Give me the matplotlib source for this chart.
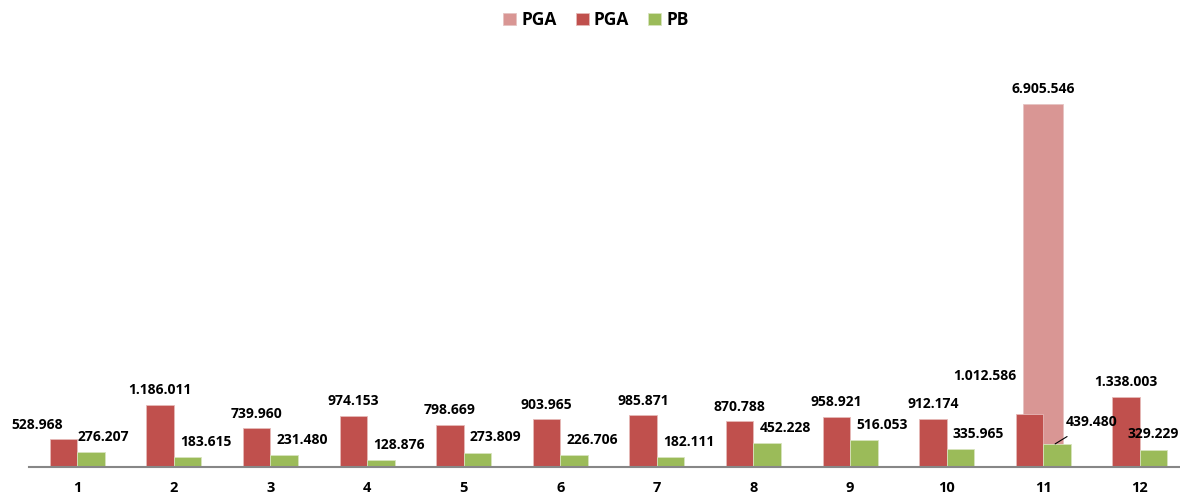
import matplotlib
matplotlib.use("Agg")
import matplotlib.pyplot as plt
import numpy as np

# 数据
categories = ['1', '2', '3', '4', '5', '6', '7', '8', '9', '10', '11', '12']
pga_values = [528968, 1186011, 739960, 974153, 798669, 903965, 985871, 870788, 958921, 912174, 1012586, 1338003]
pb_values = [276207, 183615, 231480, 128876, 273809, 226706, 182111, 452228, 516053, 335965, 439480, 329229]
pga_extra_index = 10
pga_extra_value = 6905546

color_pink = '#D99694'
color_red = '#C0504D'
color_green = '#9BBB59'


def fmt(v):
    return f"{v:,}".replace(',', '.')


plt.rcParams['font.family'] = ['Open Sans', 'DejaVu Sans']
plt.rcParams['font.weight'] = 'bold'

fig = plt.figure(figsize=(11.8, 4.95), dpi=100)
ax = fig.add_axes([29 / 1180, 28 / 495, 1151 / 1180, 427 / 495])

x = np.arange(len(categories))
bar_w = 0.285

# 背景粉色柱（只有第11组）
ax.bar([x[pga_extra_index]], [pga_extra_value], width=0.41, color=color_pink,
       edgecolor='#E6C4C3', linewidth=0.6, zorder=1, label='PGA')
ax.bar(x - bar_w / 2, pga_values, width=bar_w, color=color_red,
       edgecolor='#E6B9B8', linewidth=0.6, zorder=2, label='PGA')
ax.bar(x + bar_w / 2, pb_values, width=bar_w, color=color_green,
       edgecolor='#D7E4BD', linewidth=0.6, zorder=2, label='PB')

# 数据标签
label_kw = dict(ha='center', va='center', fontsize=10, fontweight='bold',
                textcoords='offset points', color='black', zorder=5)
for i, v in enumerate(pga_values):
    dx, dy = 0, 10.5
    if i == 0:
        dx = -19
    if i == pga_extra_index:
        dx, dy = -32, 27
    ax.annotate(fmt(v), (x[i] - bar_w / 2, v), xytext=(dx, dy), **label_kw)

for i, v in enumerate(pb_values):
    dx, dy = 13, 11
    if i == 0:
        dx = 9
    if i == len(pb_values) - 1:
        dx = 0
    if i == pga_extra_index:
        ax.annotate(fmt(v), (x[i] + bar_w / 2 - 0.02, v), xytext=(26, 16),
                    arrowprops=dict(arrowstyle='-', color='black', lw=0.8,
                                    shrinkA=7, shrinkB=0), **label_kw)
        continue
    ax.annotate(fmt(v), (x[i] + bar_w / 2, v), xytext=(dx, dy), **label_kw)

ax.annotate(fmt(pga_extra_value), (x[pga_extra_index], pga_extra_value),
            xytext=(0, 11), **label_kw)

# 坐标轴
ax.set_xlim(-0.5, -0.5 + 1151 / 96.6)
ax.set_ylim(0, 427 / 52.57 * 1e6)
ax.set_xticks(x)
ax.set_xticklabels(categories, fontsize=10.5, fontweight='bold')
ax.tick_params(axis='x', length=0, pad=10)
ax.set_yticks([])
for side in ['top', 'left', 'right']:
    ax.spines[side].set_visible(False)
ax.spines['bottom'].set_color('#878787')
ax.spines['bottom'].set_linewidth(1.5)

# 图例
leg = fig.legend(loc='center', bbox_to_anchor=(596 / 1180, 1 - 20 / 495), ncol=3,
                 frameon=False, fontsize=12.5, handlelength=0.75, handleheight=0.75,
                 handletextpad=0.3, columnspacing=1.1)
for t in leg.get_texts():
    t.set_fontweight('bold')

fig.savefig('out.png', dpi=100)
